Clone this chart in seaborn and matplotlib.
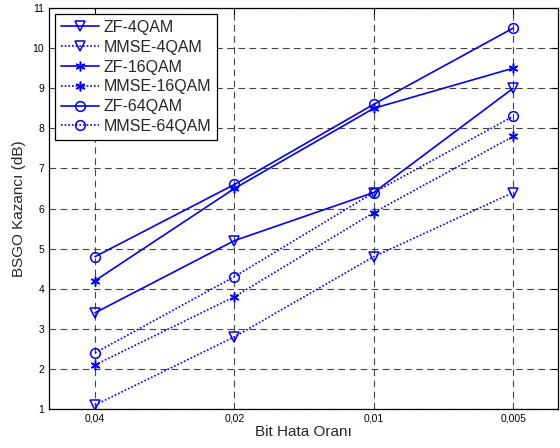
import matplotlib
matplotlib.use("Agg")
import matplotlib.pyplot as plt
import seaborn as sns
import numpy as np

sns.set_style("white")
plt.rcParams['font.family'] = ['Liberation Sans', 'DejaVu Sans']

x_labels = ["0,04", "0,02", "0,01", "0,005"]
zf_4qam = [3.4, 5.2, 6.4, 9.0]
mmse_4qam = [1.1, 2.8, 4.8, 6.4]
zf_16qam = [4.2, 6.5, 8.5, 9.5]
mmse_16qam = [2.1, 3.8, 5.9, 7.8]
zf_64qam = [4.8, 6.6, 8.6, 10.5]
mmse_64qam = [2.4, 4.3, 6.4, 8.3]

series = [
    ("ZF-4QAM", zf_4qam, "v", "-"),
    ("MMSE-4QAM", mmse_4qam, "v", ":"),
    ("ZF-16QAM", zf_16qam, (6, 2, 0), "-"),
    ("MMSE-16QAM", mmse_16qam, (6, 2, 0), ":"),
    ("ZF-64QAM", zf_64qam, "o", "-"),
    ("MMSE-64QAM", mmse_64qam, "o", ":"),
]

fig = plt.figure(figsize=(5.6, 4.48), dpi=100)
ax = fig.add_axes([0.0875, 0.087, 0.9085, 0.895])

xs = np.arange(len(x_labels))
for name, vals, mk, ls in series:
    sns.lineplot(x=xs, y=vals, ax=ax, color="blue", marker=mk,
                 linestyle=ls if ls == "-" else (0, (1, 1.2)),
                 linewidth=1.2, markersize=7, markerfacecolor="none",
                 markeredgecolor="blue", markeredgewidth=1.1, label=name)

ax.set_xlim(-0.33, 3.32)
ax.set_ylim(1, 11)
ax.set_xticks(xs)
ax.set_xticklabels(x_labels)
ax.set_yticks(range(1, 12))
ax.tick_params(direction="in", labelsize=7.5, length=4, width=0.8,
               top=True, right=True, colors="black")
ax.grid(True, color="#444444", linestyle=(0, (6, 4)), linewidth=0.8)
for s in ax.spines.values():
    s.set_color("black")
    s.set_linewidth(0.9)

ax.set_xlabel("Bit Hata Oranı", fontsize=11, labelpad=1)
ax.set_ylabel("BSGO Kazancı (dB)", fontsize=11, labelpad=5)

leg = ax.legend(loc="upper left", fontsize=11.5, frameon=True, fancybox=False,
                edgecolor="black", framealpha=1, borderpad=0.35,
                labelspacing=0.3, handlelength=2.4, handletextpad=0.25,
                borderaxespad=0.4)
leg.get_frame().set_linewidth(0.9)

fig.savefig("out.png", dpi=100)
